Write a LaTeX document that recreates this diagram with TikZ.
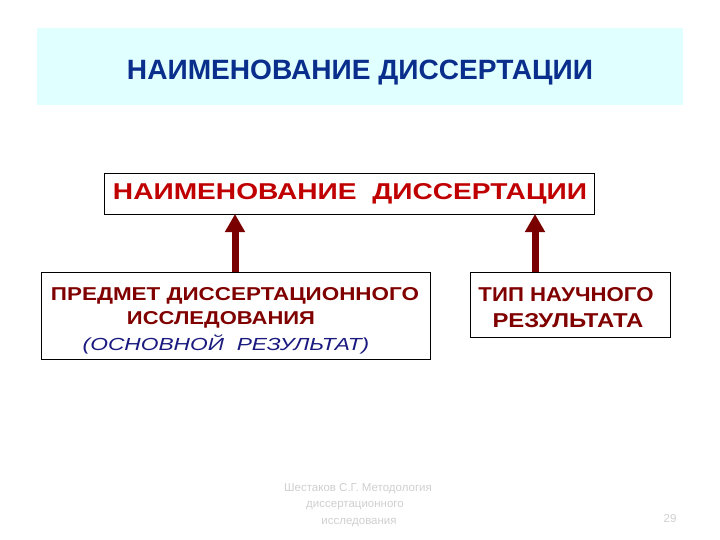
\documentclass[tikz,border=0pt]{standalone}
\usepackage{fontspec}
\usepackage{graphicx}
\setmainfont{Liberation Sans}
\usetikzlibrary{arrows.meta}
\definecolor{banner}{HTML}{E0FFFF}
\definecolor{titleblue}{HTML}{0A2E8C}
\definecolor{boxred}{HTML}{C00000}
\definecolor{darkred}{HTML}{800000}
\definecolor{arrowred}{HTML}{7A0000}
\definecolor{hand}{HTML}{1A1A80}
\definecolor{faint}{HTML}{CFCFCF}
\newcommand{\fitto}[3]{\resizebox{#1pt}{#2pt}{\bfseries #3}}
\tikzset{
  frame/.style={draw=black, line width=0.9pt, fill=white},
  uparrow/.style={draw=arrowred, line width=7pt, -{Triangle[width=19pt,length=18pt]}},
  txt/.style={inner sep=0pt, align=center, anchor=base}
}
\begin{document}
\begin{tikzpicture}[x=1pt,y=-1pt]
\useasboundingbox (0,0) rectangle (720,540);
% banner
\fill[banner] (37,28) rectangle (683,105);
\node[txt, text=titleblue] (title) at (360,79.5) {\fitto{466}{19.5}{НАИМЕНОВАНИЕ ДИССЕРТАЦИИ}};
% main box
\draw[frame] (104,173) rectangle (594,214);
\coordinate (mainL) at (235,214);
\coordinate (mainR) at (535,214);
\node[txt, text=boxred] (main) at (350,200) {\fitto{474}{16}{НАИМЕНОВАНИЕ\ \ ДИССЕРТАЦИИ}};
% left box
\draw[frame] (41,272) rectangle (430,359);
\coordinate (leftT) at (235,272);
\node[txt, text=darkred] (left1) at (235,300) {\fitto{368}{13}{ПРЕДМЕТ ДИССЕРТАЦИОННОГО}};
\node[txt, text=darkred] (left2) at (221,324) {\fitto{188}{13}{ИССЛЕДОВАНИЯ}};
\node[txt, text=hand] (left3) at (226,350) {\scalebox{1.3}[1.0]{\fontsize{17.5}{20}\selectfont\itshape (ОСНОВНОЙ\ \ РЕЗУЛЬТАТ)}};
% right box
\draw[frame] (470,272) rectangle (670,337);
\coordinate (rightT) at (535,272);
\node[txt, text=darkred] (right1) at (566,301) {\fitto{175}{14}{ТИП НАУЧНОГО}};
\node[txt, text=darkred] (right2) at (568,327) {\fitto{151}{14}{РЕЗУЛЬТАТА}};
% arrows
\draw[uparrow] (leftT) -- (mainL);
\draw[uparrow] (rightT) -- (mainR);
% footer
\node[txt, text=faint] (foot1) at (358,491) {\fontsize{11.5}{14}\selectfont Шестаков С.Г. Методология};
\node[txt, text=faint] (foot2) at (355,507) {\fontsize{11.5}{14}\selectfont диссертационного};
\node[txt, text=faint] (foot3) at (359,524) {\fontsize{11.5}{14}\selectfont исследования};
\node[txt, text=faint] (page) at (670,522) {\fontsize{11.5}{14}\selectfont 29};
\end{tikzpicture}
\end{document}
